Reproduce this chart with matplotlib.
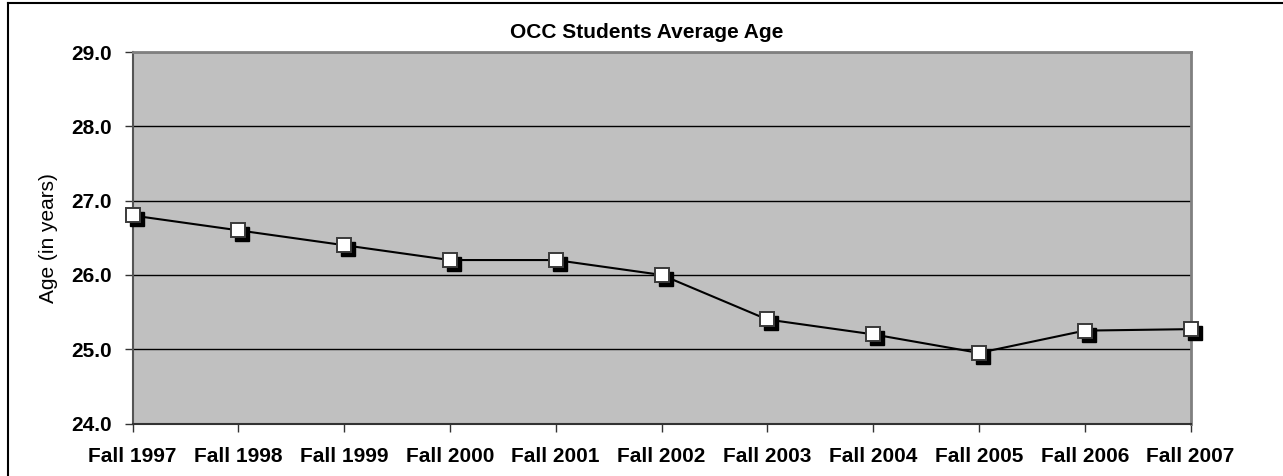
import matplotlib.pyplot as plt
from matplotlib.lines import Line2D
from matplotlib.transforms import offset_copy

plt.rcParams['font.family'] = ['Liberation Sans', 'DejaVu Sans']

# Data
terms = ['Fall 1997', 'Fall 1998', 'Fall 1999', 'Fall 2000', 'Fall 2001', 'Fall 2002',
         'Fall 2003', 'Fall 2004', 'Fall 2005', 'Fall 2006', 'Fall 2007']
avg_age = [26.8, 26.6, 26.4, 26.2, 26.2, 26.0, 25.4, 25.2, 24.95, 25.25, 25.27]
y_ticks = [24.0, 25.0, 26.0, 27.0, 28.0, 29.0]

fig = plt.figure(figsize=(12.83, 4.76), dpi=100)
ax = fig.add_axes([132.5 / 1283, 52.5 / 476, 1058 / 1283, 371.5 / 476])
ax.set_facecolor('#C0C0C0')

x = list(range(len(terms)))
ax.plot(x, avg_age, color='black', linewidth=1.5, zorder=3, clip_on=False)

# drop shadow behind each marker
shadow = offset_copy(ax.transData, fig=fig, x=4, y=-4, units='dots')
ax.plot(x, avg_age, linestyle='none', marker='s', markersize=9.5, color='black',
        transform=shadow, zorder=4, clip_on=False)
ax.plot(x, avg_age, linestyle='none', marker='s', markersize=9.5, markerfacecolor='white',
        markeredgecolor='#3a3a3a', markeredgewidth=1.4, zorder=5, clip_on=False)

ax.set_xlim(0, len(terms) - 1)
ax.set_ylim(24, 29)
ax.set_xticks(x)
ax.set_xticklabels(terms, fontsize=15, fontweight='bold')
ax.set_yticks(y_ticks)
ax.set_yticklabels([f'{v:.1f}' for v in y_ticks], fontsize=15, fontweight='bold')
ax.tick_params(axis='x', length=6, width=1, color='#333333', pad=11)
ax.tick_params(axis='y', length=6, width=1, color='#333333', pad=9)

ax.grid(axis='y', color='black', linewidth=1)
ax.set_axisbelow(True)
for side in ['top', 'right']:
    ax.spines[side].set_color('#808080')
    ax.spines[side].set_linewidth(2)
ax.spines['left'].set_color('#555555')
ax.spines['left'].set_linewidth(1.5)
ax.spines['bottom'].set_color('#333333')
ax.spines['bottom'].set_linewidth(1.5)

ax.set_ylabel('Age (in years)', fontsize=15)
ax.yaxis.set_label_coords(-0.0705, 0.5)

fig.text(0.504, 1 - 33 / 476, 'OCC Students Average Age', fontsize=15, fontweight='bold',
         ha='center', va='center')

# chart border (left and top edges visible)
fig.add_artist(Line2D([8 / 1283, 8 / 1283], [0, 1 - 3 / 476], color='black', linewidth=1.5))
fig.add_artist(Line2D([8 / 1283, 1], [1 - 3 / 476, 1 - 3 / 476], color='black', linewidth=1.5))

fig.savefig('out.png', dpi=100)
